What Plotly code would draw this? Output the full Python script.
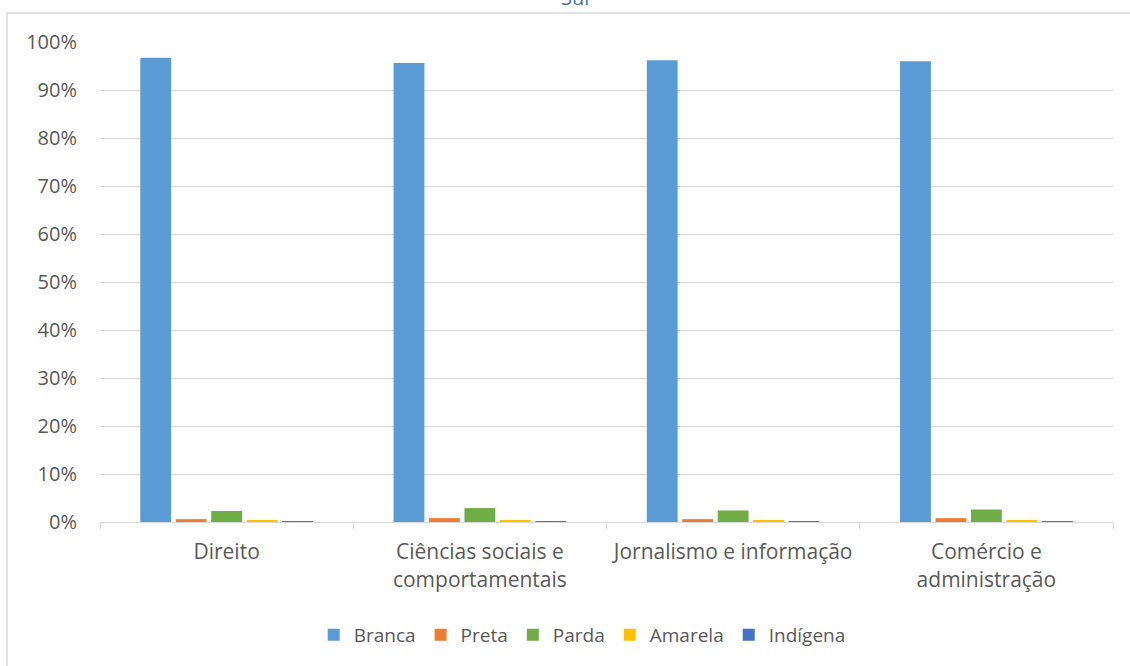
import plotly.graph_objects as go

categories = ["Direito", "Ciências sociais e<br>comportamentais", "Jornalismo e informação", "Comércio e<br>administração"]
series_names = ["Branca", "Preta", "Parda", "Amarela", "Indígena"]
branca = [0.967, 0.956, 0.962, 0.960]
preta = [0.006, 0.008, 0.006, 0.008]
parda = [0.023, 0.029, 0.024, 0.026]
amarela = [0.003, 0.004, 0.004, 0.004]
indigena = [0.0008, 0.0006, 0.0006, 0.0006]
colors = ["#5B9BD5", "#ED7D31", "#70AD47", "#FFC000", "#4472C4"]
yticks = [i / 10 for i in range(11)]

values = [branca, preta, parda, amarela, indigena]
FONT = "Open Sans"
TXT = "#595959"
GRID = "#D9D9D9"

fig = go.Figure()
for name, vals, col in zip(series_names, values, colors):
    fig.add_trace(go.Bar(x=categories, y=vals, name=name, marker=dict(color=col, line=dict(width=0))))

fig.update_layout(
    width=1130, height=666,
    margin=dict(l=100, r=17, t=42, b=144),
    paper_bgcolor="white", plot_bgcolor="white",
    barmode="group", bargap=0.30, bargroupgap=0.13,
    font=dict(family=FONT, size=18, color=TXT),
    showlegend=True,
    legend=dict(orientation="h", x=0.476, xanchor="center", y=-0.235, yanchor="middle",
                font=dict(family=FONT, size=19, color=TXT), itemwidth=30, traceorder="normal"),
    xaxis=dict(showline=True, linecolor=GRID, linewidth=1, ticks="outside", tickson="boundaries",
               ticklen=6, tickcolor=GRID, showgrid=False, ticklabelstandoff=11,
               tickfont=dict(size=21, color=TXT)),
    yaxis=dict(range=[0, 1.0], tickvals=yticks, tickformat=".0%", showgrid=True, gridcolor=GRID,
               gridwidth=1, zeroline=False, showline=False, ticks="", ticklabelstandoff=22,
               tickfont=dict(size=20, color=TXT)),
    shapes=[dict(type="rect", xref="paper", yref="paper", x0=-93 / 1013, x1=1.1, y0=-0.4, y1=1 + 29 / 480,
                 line=dict(color=GRID, width=1.5), fillcolor="rgba(0,0,0,0)", layer="below")],
    annotations=[dict(text="Sul", xref="paper", yref="paper", x=(575 - 100) / 1013, y=1 + 29 / 480,
                      xanchor="center", yanchor="bottom", showarrow=False,
                      font=dict(family=FONT, size=20, color="#4472C4"))],
)

fig.write_html("out.html", config={"displayModeBar": False},
               post_script="document.body.style.margin='0';")
